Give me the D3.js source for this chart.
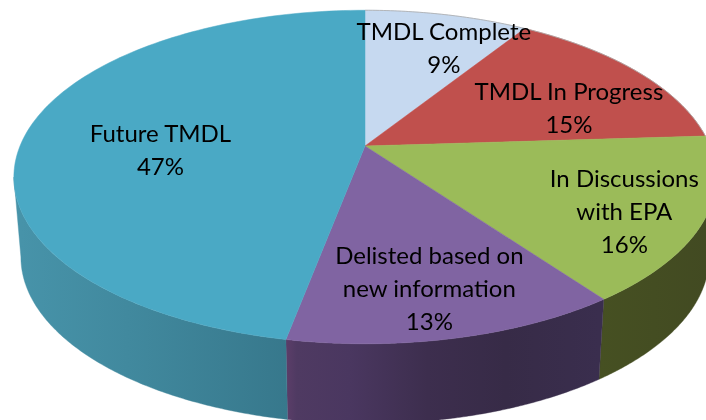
<!DOCTYPE html>
<html>
<head>
<meta charset="utf-8">
<script src="https://cdn.jsdelivr.net/npm/d3@7"></script>
<style>
html,body{margin:0;padding:0;background:#fff;overflow:hidden}
svg{display:block}
text{font-family:Lato,"Open Sans",sans-serif;font-size:24px;fill:#000;text-anchor:middle}
</style>
</head>
<body>
<svg id="chart" width="706" height="420"></svg>
<script>
const categories = [["TMDL Complete"],["TMDL In Progress"],["In Discussions","with EPA"],["Delisted based on","new information"],["Future TMDL"]];
const values = [9,15,16,13,47];
const percentLabels = ["9%","15%","16%","13%","47%"];
const topColors = ["#c6d9f0","#c0504d","#9bbb59","#8064a2","#4aa9c5"];
const wallStops = [
  [["0","#465022"],["1","#424a22"]],
  [["0","#465022"],["1","#424a22"]],
  [["0","#465022"],["1","#424a22"]],
  [["0","#5a3d68"],["0.03","#4f3a62"],["0.2","#4a3760"],["0.45","#3d2e4e"],["0.7","#372b47"],["1","#3a2e4e"]],
  [["0","#4793a9"],["0.4","#41899e"],["1","#37788c"]]
];
const labelNudge = [[19,-0.5],[9,17],[28,16],[4,18],[33,15.5]];

const W=706,H=420,cx=365,cy=146,A=345,B=161,P=0.186,depth=80,shrink=0.98;
const svg=d3.select("#chart");
const pie=d3.pie().value(d=>d).sort(null);
const arcs=pie(values);
const px=d3.scaleLinear().domain([0,1]).range([cx,cx+A]);
const py=d3.scaleLinear().domain([0,1]).range([cy,cy+B]);
function topPt(a,r=1){
  const u=r*Math.sin(a),v=-r*Math.cos(a),d=1-P*v;
  return [px(u/d),py(v/d)];
}
function botPt(a){
  const [x,y]=topPt(a);
  return [cx+(x-cx)*shrink,y+depth];
}
const line=d3.line();
const samples=(a0,a1)=>d3.range(0,121).map(i=>a0+(a1-a0)*i/120);

// the wall is only seen between the two side tangents of the rim
const tangentRight=Math.acos(-P), tangentLeft=2*Math.PI-tangentRight;
const wallRange=s=>[Math.max(s.startAngle,tangentRight),Math.min(s.endAngle,tangentLeft)];
const visibleWalls=arcs.map((s,i)=>({s,i})).filter(({s})=>{const r=wallRange(s);return r[1]>r[0];});

const defs=svg.append("defs");
visibleWalls.forEach(({s,i})=>{
  const r=wallRange(s);
  const xe=d3.extent(samples(r[0],r[1]).map(a=>botPt(a)[0]));
  const g=defs.append("linearGradient").attr("id","wall"+i).attr("gradientUnits","userSpaceOnUse")
    .attr("x1",xe[0]).attr("x2",xe[1]).attr("y1",0).attr("y2",0);
  wallStops[i].forEach(st=>g.append("stop").attr("offset",st[0]).attr("stop-color",st[1]));
});
const blur=defs.append("filter").attr("id","soft").attr("x","-5%").attr("y","-20%").attr("width","110%").attr("height","140%");
blur.append("feGaussianBlur").attr("stdDeviation",0.35);

// outer walls
svg.append("g").selectAll("path").data(visibleWalls).join("path")
  .attr("d",({s})=>{
    const r=wallRange(s),as=samples(r[0],r[1]);
    return line(as.map(a=>topPt(a)).concat(as.slice().reverse().map(a=>botPt(a))))+"Z";
  })
  .attr("fill",d=>`url(#wall${d.i})`)
  .attr("stroke",d=>`url(#wall${d.i})`).attr("stroke-width",0.4);

// top face
svg.append("g").selectAll("path").data(arcs).join("path")
  .attr("d",s=>line([[cx,cy]].concat(samples(s.startAngle,s.endAngle).map(a=>topPt(a))))+"Z")
  .attr("fill",(s,i)=>topColors[i])
  .attr("stroke",(s,i)=>topColors[i]).attr("stroke-width",0.5);

// thin rim on the back edge
svg.append("path")
  .attr("d",line(samples(arcs[0].startAngle,arcs[1].endAngle).map(a=>topPt(a))))
  .attr("fill","none").attr("stroke","#a9a9a9").attr("stroke-width",0.8);

// labels
const lh=33;
const labels=svg.append("g").attr("filter","url(#soft)");
arcs.forEach((s,i)=>{
  const p=topPt((s.startAngle+s.endAngle)/2,0.7);
  const lines=categories[i].concat(percentLabels[i]);
  const xc=p[0]+labelNudge[i][0],yc=p[1]+labelNudge[i][1];
  lines.forEach((t,j)=>{
    labels.append("text").attr("x",xc).attr("y",yc+(j-(lines.length-1)/2)*lh+7.5).text(t);
  });
});
</script>
</body>
</html>
